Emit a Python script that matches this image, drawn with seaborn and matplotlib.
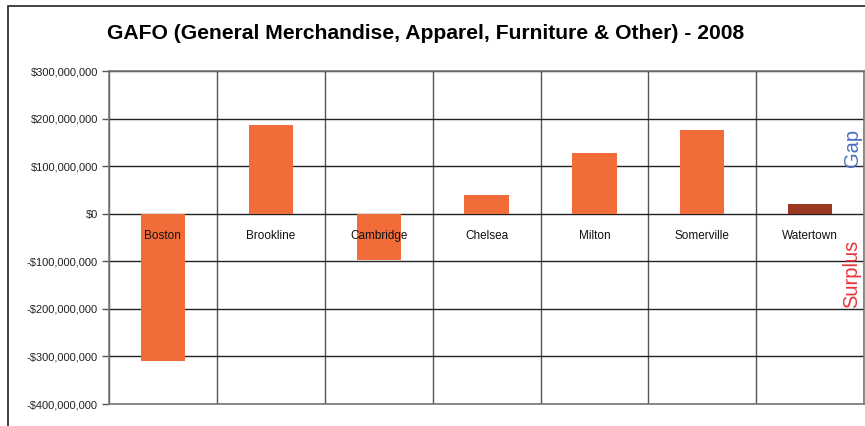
import numpy as np
import pandas as pd
import matplotlib.pyplot as plt
import matplotlib.ticker as mticker
from matplotlib.patches import Rectangle
import seaborn as sns

# 数据
towns = ['Boston', 'Brookline', 'Cambridge', 'Chelsea', 'Milton', 'Somerville', 'Watertown']
gap_values = [-310e6, 187e6, -97e6, 40e6, 128e6, 176e6, 21e6]
bar_colors = ['#F26C3A', '#F26C3A', '#F26C3A', '#F26C3A', '#F26C3A', '#F26C3A', '#9A3822']
yticks = [-400e6, -300e6, -200e6, -100e6, 0, 100e6, 200e6, 300e6]

df = pd.DataFrame({'town': towns, 'value': gap_values})

sns.set_style('white')
plt.rcParams['font.family'] = ['Liberation Sans', 'DejaVu Sans']
plt.rcParams['text.color'] = 'black'

fig = plt.figure(figsize=(8.65, 4.26), dpi=100)
ax = fig.add_axes([0.126, 0.0516, 0.873, 0.7817])

# 外框
fig.patches.append(Rectangle((8 / 865, -0.1), 2, 1.1 - 6 / 426, transform=fig.transFigure,
                             fill=False, edgecolor='#222222', linewidth=1.2))

sns.barplot(data=df, x='town', y='value', hue='town', palette=bar_colors,
            width=0.41, legend=False, ax=ax, saturation=1, linewidth=0, zorder=3)

ax.set_xlim(-0.5, len(towns) - 0.5)
ax.set_ylim(-400e6, 300e6)
ax.set_yticks(yticks)

def money(v, pos):
    if v < 0:
        return '-${:,.0f}'.format(-v)
    return '${:,.0f}'.format(v)

ax.yaxis.set_major_formatter(mticker.FuncFormatter(money))
ax.tick_params(axis='y', labelsize=8, length=5, width=1, color='#555555', labelcolor='#222222',
               left=True, pad=3)
ax.set_xticks([])
ax.set_xticks(np.arange(-0.5, len(towns), 1), minor=True)
ax.tick_params(axis='x', which='minor', length=0)
ax.grid(axis='y', color='#222222', linewidth=1, zorder=1)
ax.grid(axis='x', which='minor', color='#555555', linewidth=1, zorder=1)
ax.set_axisbelow(True)
for s in ax.spines.values():
    s.set_color('#777777')
    s.set_linewidth(1.2)
ax.set_xlabel('')
ax.set_ylabel('')

# 类别标签
for i, t in enumerate(towns):
    ax.text(i, -0.46e8, t, ha='center', va='center', fontsize=8.5, color='#111111', zorder=4)

fig.text(0.492, 0.922, 'GAFO (General Merchandise, Apparel, Furniture & Other) - 2008',
         ha='center', va='center', fontsize=15.2, fontweight='bold', color='black')
fig.text(0.985, 0.652, 'Gap', rotation=90, ha='center', va='center', fontsize=14.5, color='#4A6FC0')
fig.text(0.985, 0.357, 'Surplus', rotation=90, ha='center', va='center', fontsize=14.5, color='#E8343A')

plt.savefig('out.png', dpi=100)
